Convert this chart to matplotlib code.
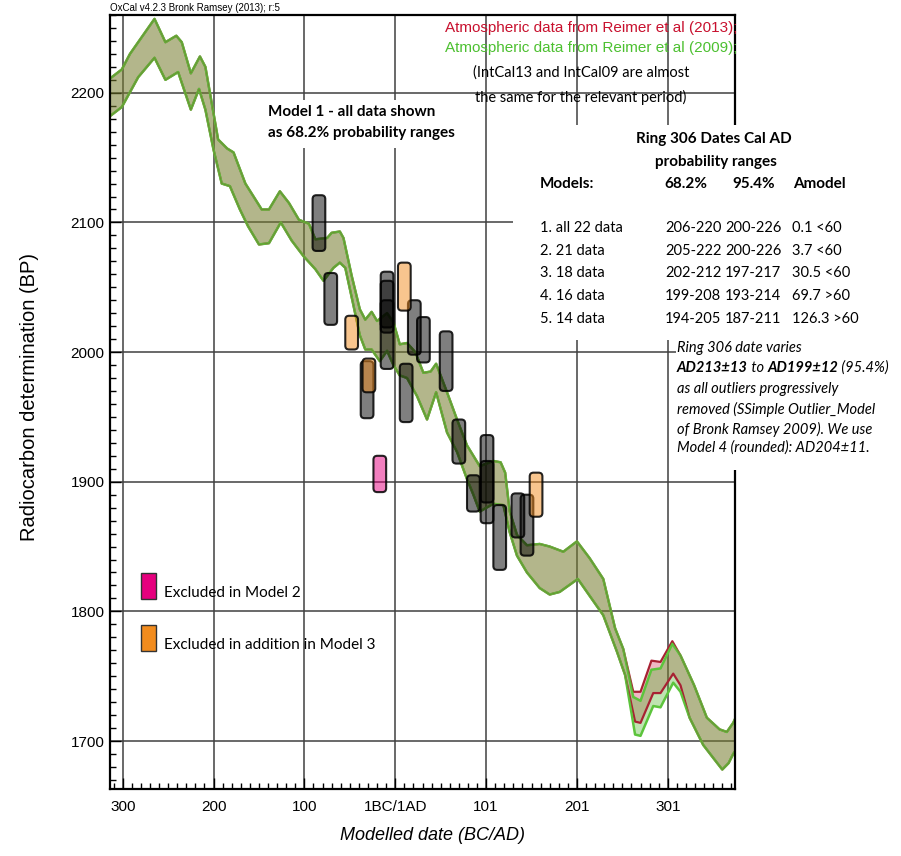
import matplotlib
matplotlib.use("Agg")
import matplotlib.pyplot as plt
from matplotlib import font_manager
from matplotlib.patches import FancyBboxPatch, Rectangle
from matplotlib.text import Annotation
from matplotlib.ticker import MultipleLocator

# x = years from the 1BC/1AD boundary, y = radiocarbon age BP
# upper edge of calibration band (IntCal13 and IntCal09 identical here)
hi_x = [-314, -301, -292, -279, -265, -253, -241, -235, -225, -215, -209, -202, -195,
        -185, -178, -165, -147, -139, -127, -117, -106, -95, -88, -75, -70, -61, -57,
        -48, -39, -33, -26, -20, -9, -2, 5, 13, 22, 31, 39, 45, 57, 68, 79, 93, 108,
        116, 121, 126, 134, 145, 159, 170, 185, 200, 214, 229, 242, 251]
hi_y = [2211, 2218, 2230, 2243, 2257, 2239, 2244, 2239, 2215, 2228, 2220, 2192, 2164,
        2157, 2154, 2130, 2110, 2110, 2124, 2115, 2102, 2099, 2087, 2088, 2092, 2093, 2088,
        2059, 2033, 2025, 2031, 2024, 2030, 2023, 2006, 2007, 2000, 1984, 1985, 1991, 1969,
        1948, 1928, 1912, 1916, 1915, 1907, 1877, 1859, 1851, 1852, 1850, 1846, 1854, 1841,
        1825, 1787, 1771]
# section where the two calibration curves differ
mid_hi_x = [262, 270, 282, 292, 305, 314]
mid_hi13 = [1738, 1738, 1762, 1761, 1777, 1766]
mid_hi09 = [1734, 1731, 1755, 1756, 1775, 1766]
end_hi_x = [329, 343, 357, 365, 372, 374]
end_hi_y = [1743, 1718, 1709, 1707, 1714, 1717]

# lower edge of calibration band
lo_x = [-314, -301, -283, -265, -253, -239, -225, -216, -209, -200, -191, -182, -171,
        -162, -150, -139, -126, -114, -101, -88, -79, -68, -61, -55, -46, -39, -33, -26,
        -17, -9, -2, 5, 13, 24, 35, 45, 57, 68, 79, 86, 93, 108, 119, 126, 134, 145, 159,
        170, 181, 201, 211, 229, 244, 253]
lo_y = [2182, 2189, 2212, 2227, 2210, 2216, 2187, 2203, 2187, 2156, 2130, 2128, 2110,
        2097, 2083, 2084, 2100, 2086, 2074, 2064, 2055, 2065, 2069, 2065, 2036, 2013, 2002,
        2002, 1993, 2001, 1990, 1982, 1980, 1966, 1948, 1969, 1938, 1923, 1902, 1890, 1877,
        1883, 1882, 1861, 1843, 1830, 1818, 1813, 1815, 1825, 1815, 1797, 1769, 1751]
mid_lo_x = [264, 270, 284, 292, 306, 314]
mid_lo13 = [1715, 1714, 1737, 1737, 1752, 1743]
mid_lo09 = [1705, 1704, 1727, 1726, 1745, 1738]
end_lo_x = [324, 339, 350, 360, 367, 372, 374]
end_lo_y = [1718, 1697, 1687, 1678, 1683, 1690, 1692]

# ring 306 dates, 68.2% ranges: centre year, low BP, high BP
gray_x = [-84, -71, -31, -9, -9, -9, 12, 21, 31, 56, 70, 86, 101, 101, 115, 135, 145]
gray_lo = [2078, 2021, 1949, 1987, 2015, 2019, 1946, 1998, 1992, 1970, 1914, 1877,
           1868, 1884, 1832, 1857, 1843]
gray_hi = [2121, 2061, 1993, 2062, 2055, 2040, 1991, 2040, 2027, 2016, 1948, 1905,
           1936, 1916, 1882, 1891, 1890]
orange_x = [-48, -29, 10, 155]
orange_lo = [2002, 1969, 2032, 1873]
orange_hi = [2028, 1995, 2069, 1907]
pink_x = [-17]
pink_lo = [1892]
pink_hi = [1920]

tick_pos = [-300, -200, -100, 0, 100, 200, 300]
tick_lab = ['300', '200', '100', '1BC/1AD', '101', '201', '301']
ytick_pos = [1700, 1800, 1900, 2000, 2100, 2200]

models = ['1. all 22 data', '2. 21 data', '3. 18 data', '4. 16 data', '5. 14 data']
r68 = ['206-220', '205-222', '202-212', '199-208', '194-205']
r95 = ['200-226', '200-226', '197-217', '193-214', '187-211']
amodel = ['0.1 <60', '3.7 <60', '30.5 <60', '69.7 >60', '126.3 >60']

W, H = 901, 856


def fx(x):
    return x / W


def fy(y):
    return 1 - y / H


names = {f.name for f in font_manager.fontManager.ttflist}
if 'Liberation Sans Narrow' in names:
    tick_font, tick_size = 'Liberation Sans Narrow', 13.5
else:
    tick_font, tick_size = 'Liberation Sans', 11
SANS = 'Liberation Sans'
MY = 'Lato'

fig = plt.figure(figsize=(W / 100, H / 100), dpi=100)
fig.patch.set_facecolor('white')
ax = fig.add_axes([fx(110), fy(789), 625 / W, 774 / H])
ax.set_xlim(-314, 374)
ax.set_ylim(1663, 2260)

# calibration band
x13 = hi_x + mid_hi_x + end_hi_x
y13_hi = hi_y + mid_hi13 + end_hi_y
xl13 = lo_x + mid_lo_x + end_lo_x
y13_lo = lo_y + mid_lo13 + end_lo_y
y09_hi = hi_y + mid_hi09 + end_hi_y
y09_lo = lo_y + mid_lo09 + end_lo_y

ax.fill(x13 + xl13[::-1], y13_hi + y13_lo[::-1], color='#c8143c', alpha=0.3, lw=0, zorder=2)
ax.fill(x13 + xl13[::-1], y09_hi + y09_lo[::-1], color='#4cb428', alpha=0.36, lw=0, zorder=2.1)
ax.plot(x13, y13_hi, color='#b01c36', lw=1.6, zorder=2.2)
ax.plot(xl13, y13_lo, color='#b01c36', lw=1.6, zorder=2.2)
ax.plot(x13, y09_hi, color='#5cc43c', lw=1.8, zorder=2.3)
ax.plot(xl13, y09_lo, color='#5cc43c', lw=1.8, zorder=2.3)
ax.plot(x13, y13_hi, color='#8a3a2a', lw=0.6, alpha=0.45, zorder=2.4)
ax.plot(xl13, y13_lo, color='#8a3a2a', lw=0.6, alpha=0.45, zorder=2.4)


def bar(x, lo, hi, fc):
    w = 14
    p = FancyBboxPatch((x - w / 2, lo), w, hi - lo,
                       boxstyle='round,pad=0,rounding_size=4.2', mutation_aspect=0.7,
                       fc=fc, ec=(0, 0, 0, 0.85), lw=1.5, zorder=4)
    ax.add_patch(p)


for x, lo, hi in zip(gray_x, gray_lo, gray_hi):
    bar(x, lo, hi, (0, 0, 0, 0.5))
for x, lo, hi in zip(orange_x, orange_lo, orange_hi):
    bar(x, lo, hi, (0.95, 0.55, 0.12, 0.5))
for x, lo, hi in zip(pink_x, pink_lo, pink_hi):
    bar(x, lo, hi, (0.9, 0.0, 0.5, 0.5))

# axes styling
ax.set_xticks(tick_pos)
ax.set_xticklabels(tick_lab)
ax.set_yticks(ytick_pos)
ax.xaxis.set_minor_locator(MultipleLocator(10))
ax.yaxis.set_minor_locator(MultipleLocator(10))
ax.tick_params(which='both', direction='in', top=False, right=False, width=1)
ax.tick_params(which='major', length=8)
ax.tick_params(which='minor', length=4)
ax.tick_params(axis='x', pad=8)
ax.tick_params(axis='y', pad=4)
for lab in ax.get_xticklabels() + ax.get_yticklabels():
    lab.set_fontfamily(tick_font)
    lab.set_fontsize(tick_size)
ax.grid(True, which='major', color='#404040', lw=1.1)
ax.set_axisbelow(True)
for s in ax.spines.values():
    s.set_linewidth(1.6)

fig.text(fx(30), fy(397), 'Radiocarbon determination (BP)', rotation=90,
         ha='center', va='center', family=SANS, fontsize=14.5)
fig.text(fx(432), fy(836), 'Modelled date (BC/AD)', ha='center', va='center',
         family=SANS, fontsize=13, style='italic')
fig.text(fx(110), fy(8), 'OxCal v4.2.3 Bronk Ramsey (2013); r:5', ha='left', va='center',
         family=SANS, fontsize=7)

fig.text(fx(737), fy(28), 'Atmospheric data from Reimer et al (2013);', ha='right', va='center',
         family=SANS, fontsize=11, color='#c8102e')
fig.text(fx(737), fy(48), 'Atmospheric data from Reimer et al (2009);', ha='right', va='center',
         family=SANS, fontsize=11, color='#4cc030')
fig.text(fx(581), fy(73), '(IntCal13 and IntCal09 are almost', ha='center', va='center',
         family=MY, fontsize=10.5)
fig.text(fx(581), fy(97), 'the same for the relevant period)', ha='center', va='center',
         family=MY, fontsize=10.5)

# white panels behind the annotation blocks
for (x0, y0, x1, y1) in [(262, 100, 478, 148), (513, 125, 882, 340), (676, 330, 896, 470)]:
    fig.add_artist(Rectangle((fx(x0), fy(y1)), (x1 - x0) / W, (y1 - y0) / H,
                             transform=fig.transFigure, fc='white', ec='none', zorder=1))

fig.text(fx(268), fy(112), 'Model 1 - all data shown', ha='left', va='center',
         family=MY, fontsize=11, fontweight='bold')
fig.text(fx(268), fy(133), 'as 68.2% probability ranges', ha='left', va='center',
         family=MY, fontsize=11, fontweight='bold')

fig.text(fx(714), fy(139), 'Ring 306 Dates Cal AD', ha='center', va='center',
         family=MY, fontsize=11, fontweight='bold')
fig.text(fx(716), fy(162), 'probability ranges', ha='center', va='center',
         family=MY, fontsize=11, fontweight='bold')
for x, s in [(540, 'Models:'), (664, '68.2%'), (732, '95.4%'), (793, 'Amodel')]:
    fig.text(fx(x), fy(184), s, ha='left', va='center', family=MY, fontsize=11,
             fontweight='bold')
row_y = [228, 251, 273, 296, 319]
for i, y in enumerate(row_y):
    fig.text(fx(540), fy(y), models[i], ha='left', va='center', family=MY, fontsize=10.5)
    fig.text(fx(665), fy(y), r68[i], ha='left', va='center', family=MY, fontsize=10.5)
    fig.text(fx(725), fy(y), r95[i], ha='left', va='center', family=MY, fontsize=10.5)
    fig.text(fx(792), fy(y), amodel[i], ha='left', va='center', family=MY, fontsize=10.5)

# italic note with bold parts
note_kw = dict(family=MY, fontsize=10.5, style='italic', va='center', ha='left')
fig.text(fx(677), fy(348), 'Ring 306 date varies', **note_kw)
prev = fig.text(fx(677), fy(368), 'AD213±13', fontweight='bold', **note_kw)
for s, wt in [(' to ', 'normal'), ('AD199±12', 'bold'), (' (95.4%)', 'normal')]:
    a = Annotation(s, xy=(1, 0.5), xycoords=prev, fontweight=wt, **note_kw)
    fig.add_artist(a)
    prev = a
for y, s in [(389, 'as all outliers progressively'), (409, 'removed (SSimple Outlier_Model'),
             (429, 'of Bronk Ramsey 2009). We use'), (448, 'Model 4 (rounded): AD204±11.')]:
    fig.text(fx(677), fy(y), s, **note_kw)

# legend for excluded dates
fig.add_artist(Rectangle((fx(141), fy(599)), 15 / W, 26 / H, transform=fig.transFigure,
                         fc='#e6007e', ec='#333333', lw=1, zorder=1))
fig.add_artist(Rectangle((fx(141), fy(651)), 15 / W, 26 / H, transform=fig.transFigure,
                         fc='#f28c1e', ec='#333333', lw=1, zorder=1))
fig.text(fx(164), fy(593), 'Excluded in Model 2', ha='left', va='center', family=MY,
         fontsize=11)
fig.text(fx(164), fy(645), 'Excluded in addition in Model 3', ha='left', va='center',
         family=MY, fontsize=11)

fig.savefig('out.png', dpi=100, facecolor='white')
